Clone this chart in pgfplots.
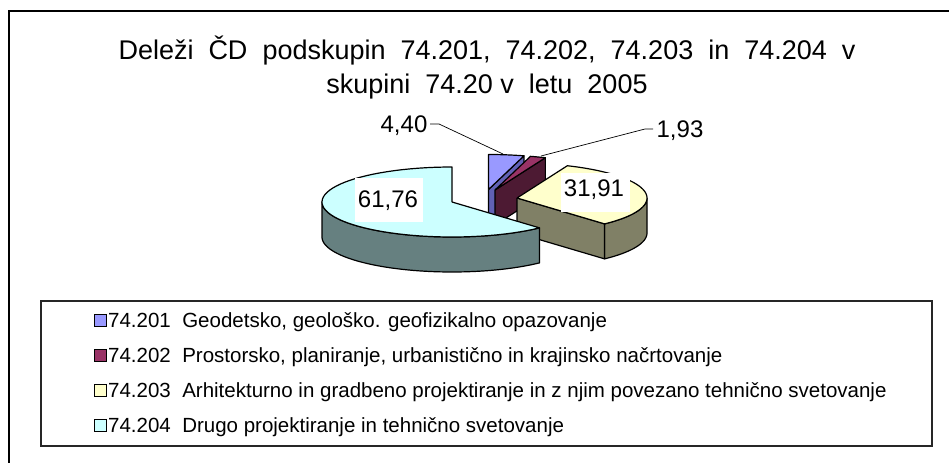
\documentclass[border=0pt]{standalone}
\usepackage{pgfplots}
\pgfplotsset{compat=1.18}
\usepackage{pgfplotstable}
\usepackage{fontspec}
\setmainfont{Liberation Sans}

\definecolor{blueTop}{HTML}{9999FF}
\definecolor{blueSide}{HTML}{6161B5}
\definecolor{magTop}{HTML}{993366}
\definecolor{magSide}{HTML}{4D1A33}
\definecolor{yelTop}{HTML}{FFFFCC}
\definecolor{yelSide}{HTML}{808066}
\definecolor{cyaTop}{HTML}{CCFFFF}
\definecolor{cyaSide}{HTML}{668080}

\pgfplotstableread{
code value
74.201 4.40
74.202 1.93
74.203 31.91
74.204 61.76
}\piedata

% pie geometry (pixels of the reference)
\def\rx{130}\def\ry{35}\def\hh{35}

% top face of a slice: centre (#1,#2), angles #3..#4 (clockwise from 12 o'clock)
\newcommand\slicetop[5]{%
  \def\coords{(#1,#2)}%
  \pgfplotsforeachungrouped \kk in {0,...,60}{%
    \pgfmathsetmacro\ang{#3+(#4-#3)*\kk/60}%
    \pgfmathsetmacro\px{#1+\rx*sin(\ang)}%
    \pgfmathsetmacro\py{#2-\ry*cos(\ang)}%
    \xdef\coords{\coords (\px,\py)}%
  }%
  \xdef\coords{\coords (#1,#2)}%
  \edef\doplot{\noexpand\addplot[#5] coordinates {\coords};}%
  \doplot
}
% curved outer side between angles #3..#4
\newcommand\sliceband[5]{%
  \def\coordsA{}\def\coordsB{}%
  \pgfplotsforeachungrouped \kk in {0,...,60}{%
    \pgfmathsetmacro\ang{#3+(#4-#3)*\kk/60}%
    \pgfmathsetmacro\px{#1+\rx*sin(\ang)}%
    \pgfmathsetmacro\py{#2-\ry*cos(\ang)}%
    \pgfmathsetmacro\pyb{\py+\hh}%
    \xdef\coordsA{\coordsA (\px,\py)}%
    \xdef\coordsB{(\px,\pyb) \coordsB}%
  }%
  \pgfmathsetmacro\px{#1+\rx*sin(#3)}%
  \pgfmathsetmacro\py{#2-\ry*cos(#3)}%
  \edef\doplot{\noexpand\addplot[#5] coordinates {\coordsA\space\coordsB\space (\px,\py)};}%
  \doplot
}
% flat radial side at angle #3
\newcommand\sliceface[4]{%
  \pgfmathsetmacro\px{#1+\rx*sin(#3)}%
  \pgfmathsetmacro\py{#2-\ry*cos(#3)}%
  \pgfmathsetmacro\pyb{\py+\hh}%
  \pgfmathsetmacro\cyb{#2+\hh}%
  \edef\doplot{\noexpand\addplot[#4] coordinates {(#1,#2) (\px,\py) (\px,\pyb) (#1,\cyb) (#1,#2)};}%
  \doplot
}

\begin{document}
\begin{tikzpicture}
\path[use as bounding box] (0,0) rectangle (949bp,463bp);
\begin{axis}[at={(0,0)}, anchor=south west, scale only axis,
  width=949bp, height=463bp, xmin=0, xmax=949, ymin=0, ymax=463,
  y dir=reverse, hide axis, clip=false]

\pgfplotstablegetelem{0}{value}\of\piedata \pgfmathsetmacro\vA{\pgfplotsretval}
\pgfplotstablegetelem{1}{value}\of\piedata \pgfmathsetmacro\vB{\pgfplotsretval}
\pgfplotstablegetelem{2}{value}\of\piedata \pgfmathsetmacro\vC{\pgfplotsretval}
\pgfplotstablegetelem{3}{value}\of\piedata \pgfmathsetmacro\vD{\pgfplotsretval}
\pgfmathsetmacro\tA{0}
\pgfmathsetmacro\tB{\tA+3.6*\vA}
\pgfmathsetmacro\tC{\tB+3.6*\vB}
\pgfmathsetmacro\tD{\tC+3.6*\vC}
\pgfmathsetmacro\tE{\tD+3.6*\vD}

% frames
\draw[black, line width=1.8bp] (axis cs:9,463) -- (axis cs:9,11) -- (axis cs:949,11);
\draw[black!85, line width=1.3bp] (axis cs:41,301) rectangle (axis cs:932,446);

% title
\node[anchor=base, font=\fontsize{27bp}{32bp}\selectfont] at (axis cs:487,59.5)
  {Deleži\ \ ČD\ \ podskupin\ \ 74.201,\ \ 74.202,\ \ 74.203\ \ in\ \ 74.204\ \ v};
\node[anchor=base, font=\fontsize{27bp}{32bp}\selectfont] at (axis cs:487,94)
  {skupini\ \ 74.20 v\ \ letu\ \ 2005};

\tikzset{edge/.style={draw=black, line width=1.2bp, line join=round}}

% slice 1 (74.201)
\sliceface{488.5}{189.5}{\tB}{fill=blueSide, edge}
\slicetop{488.5}{189.5}{\tA}{\tB}{fill=blueTop, edge}
% slice 2 (74.202)
\sliceface{495}{190}{\tC}{fill=magSide, edge}
\slicetop{495}{190}{\tB}{\tC}{fill=magTop, edge}
% slice 3 (74.203)
\sliceband{517}{198}{90}{\tD}{fill=yelSide, edge}
\sliceface{517}{198}{\tD}{fill=yelSide, edge}
\slicetop{517}{198}{\tC}{\tD}{fill=yelTop, edge}
% slice 4 (74.204)
\sliceband{452}{202}{\tD}{270}{fill=cyaSide, edge}
\slicetop{452}{202}{\tD}{\tE}{fill=cyaTop, edge}

% data labels
\draw[black, line width=0.7bp] (axis cs:430,124) -- (axis cs:439,124) -- (axis cs:503,154);
\draw[black, line width=0.7bp] (axis cs:653,129) -- (axis cs:645,129) -- (axis cs:541,156);
\node[anchor=base, font=\fontsize{24bp}{28bp}\selectfont, inner sep=0pt] at (axis cs:404,132.5) {4,40};
\node[anchor=base, font=\fontsize{24bp}{28bp}\selectfont, inner sep=0pt] at (axis cs:680,137) {1,93};
\fill[white] (axis cs:355,178) rectangle (axis cs:423,222);
\node[anchor=base, font=\fontsize{24bp}{28bp}\selectfont, inner sep=0pt] at (axis cs:388,207.5) {61,76};
\fill[white] (axis cs:561,173) rectangle (axis cs:630,212);
\node[anchor=base, font=\fontsize{24bp}{28bp}\selectfont, inner sep=0pt] at (axis cs:594,196.5) {31,91};

% legend
\tikzset{legsq/.style={draw=black, line width=1bp}}
\def\legfont{\fontsize{20.5bp}{24bp}\selectfont}
\fill[blueTop, legsq] (axis cs:94,314) rectangle (axis cs:106,326);
\fill[magTop, legsq] (axis cs:94,349) rectangle (axis cs:106,361);
\fill[yelTop, legsq] (axis cs:94,384) rectangle (axis cs:106,396);
\fill[cyaTop, legsq] (axis cs:94,419) rectangle (axis cs:106,431);
\node[anchor=base west, inner sep=0pt, font=\legfont] at (axis cs:108,327.5) {74.201\ \ Geodetsko, geološko. geofizikalno opazovanje};
\node[anchor=base west, inner sep=0pt, font=\legfont] at (axis cs:108,362.5) {74.202\ \ Prostorsko, planiranje, urbanistično in krajinsko načrtovanje};
\node[anchor=base west, inner sep=0pt, font=\legfont] at (axis cs:108,397.5) {74.203\ \ Arhitekturno in gradbeno projektiranje in z njim povezano tehnično svetovanje};
\node[anchor=base west, inner sep=0pt, font=\legfont] at (axis cs:108,432.5) {74.204\ \ Drugo projektiranje in tehnično svetovanje};
\end{axis}
\end{tikzpicture}
\end{document}
